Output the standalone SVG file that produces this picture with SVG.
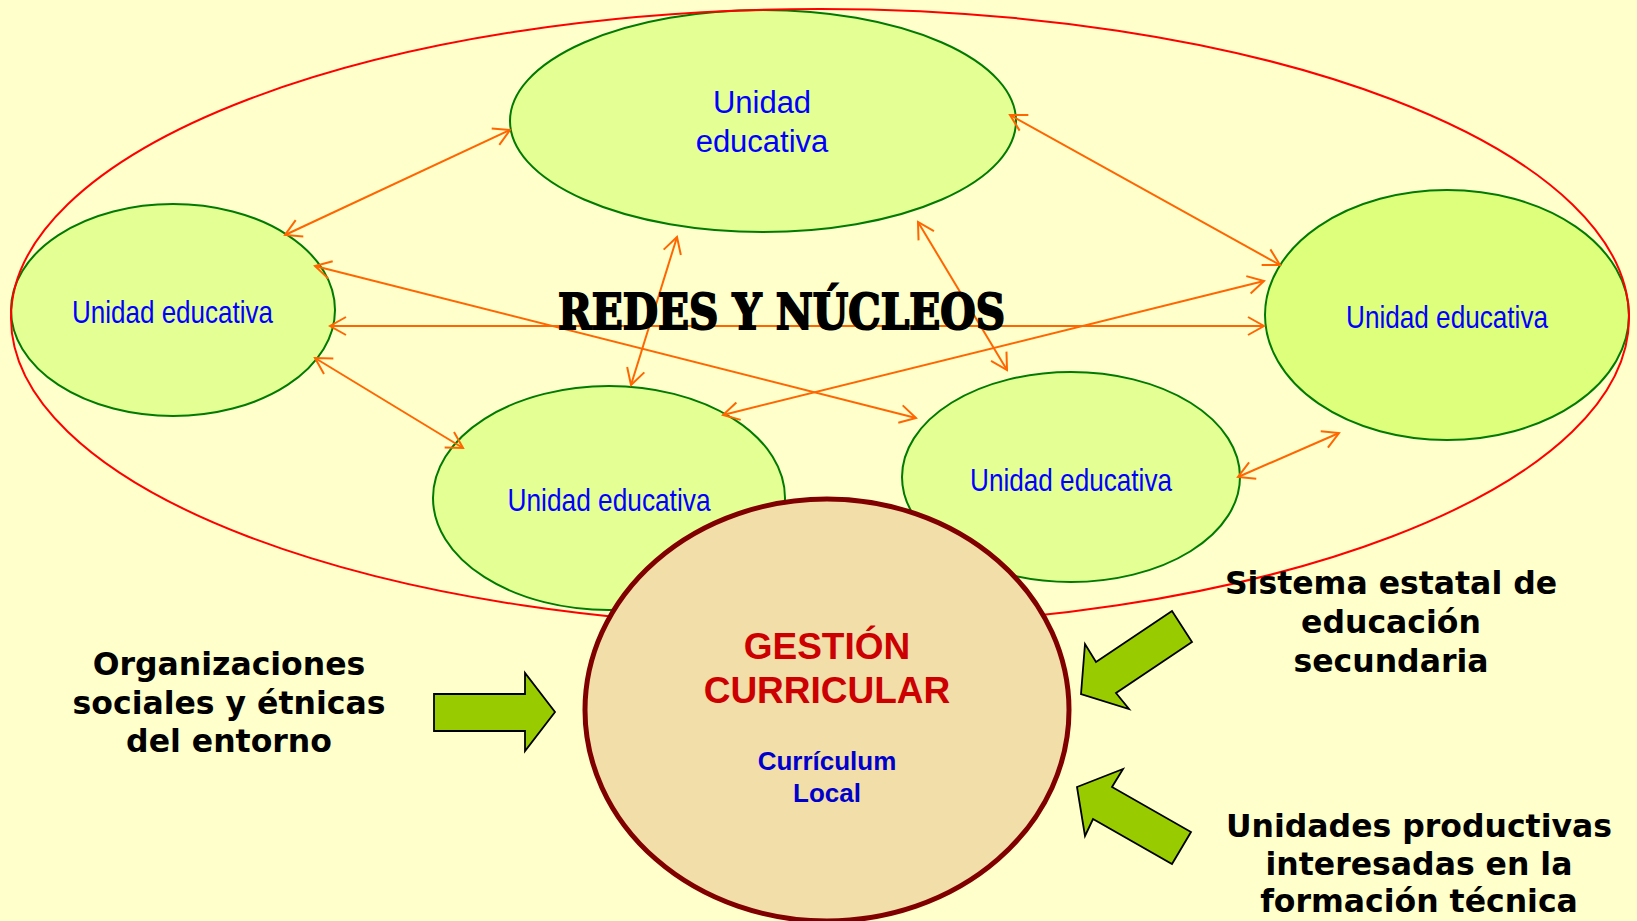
<svg xmlns="http://www.w3.org/2000/svg" width="1637" height="921" viewBox="0 0 1637 921">
<style>
.ue{fill:#E4FF93;stroke:#007A00;stroke-width:2}
.uet{font-family:"Liberation Sans Narrow","Liberation Sans",Arial,sans-serif;font-size:32px;fill:#0000FF;text-anchor:middle}
.conn line{stroke:#FF6600;stroke-width:2;marker-start:url(#ah);marker-end:url(#ah)}
.blk{font-family:"DejaVu Sans",Verdana,sans-serif;font-weight:bold;font-size:31.5px;fill:#000;text-anchor:middle}
.ga{fill:#99CC00;stroke:#000;stroke-width:1.8;stroke-linejoin:miter}
</style>
<defs>
<marker id="ah" viewBox="-20 -12 22 24" refX="0" refY="0" markerWidth="22" markerHeight="24" markerUnits="userSpaceOnUse" orient="auto-start-reverse">
<path d="M-16,-9 L0,0 L-16,9" fill="none" stroke="#FF6600" stroke-width="2"/>
</marker>
</defs>
<rect x="0" y="0" width="1637" height="921" fill="#FFFFCC"/>

<g id="ue-top">
<ellipse class="ue" cx="763" cy="121" rx="253" ry="111"/>
<text x="762" y="113" font-family="Liberation Sans,Arial,sans-serif" font-size="31" fill="#0000FF" text-anchor="middle">Unidad</text>
<text x="762" y="152" font-family="Liberation Sans,Arial,sans-serif" font-size="31" fill="#0000FF" text-anchor="middle">educativa</text>
</g>
<g id="ue-left">
<ellipse class="ue" cx="173" cy="310" rx="162" ry="106"/>
<text class="uet" x="172.5" y="323" textLength="201" lengthAdjust="spacingAndGlyphs">Unidad educativa</text>
</g>
<g id="ue-right">
<ellipse class="ue" cx="1447" cy="315" rx="182" ry="125" style="fill:#DEFF7C"/>
<text class="uet" x="1447" y="328" textLength="202" lengthAdjust="spacingAndGlyphs">Unidad educativa</text>
</g>
<g id="ue-bottom-left">
<ellipse class="ue" cx="609" cy="498" rx="176" ry="112"/>
<text class="uet" x="609" y="511" textLength="203" lengthAdjust="spacingAndGlyphs">Unidad educativa</text>
</g>
<g id="ue-bottom-right">
<ellipse class="ue" cx="1071" cy="477" rx="169" ry="105"/>
<text class="uet" x="1071" y="491" textLength="202" lengthAdjust="spacingAndGlyphs">Unidad educativa</text>
</g>

<g id="red-boundary">
<ellipse cx="820" cy="318" rx="809" ry="309" fill="none" stroke="#FF0000" stroke-width="2"/>
</g>

<g id="connectors" class="conn">
<line x1="285" y1="235" x2="510" y2="130"/>
<line x1="1010" y1="115" x2="1280" y2="265"/>
<line x1="677" y1="237" x2="631" y2="385"/>
<line x1="918" y1="222" x2="1007" y2="370"/>
<line x1="315" y1="266" x2="916" y2="418"/>
<line x1="330" y1="326" x2="1264" y2="326"/>
<line x1="315" y1="358" x2="463" y2="448"/>
<line x1="723" y1="415" x2="1264" y2="281"/>
<line x1="1238" y1="477" x2="1339" y2="433"/>
</g>

<g id="title">
<text x="781.5" y="329" font-family="DejaVu Serif,Liberation Serif,serif" font-weight="bold" font-size="48" fill="#000" stroke="#000" stroke-width="2" text-anchor="middle" textLength="447" lengthAdjust="spacingAndGlyphs">REDES Y NÚCLEOS</text>
</g>

<g id="gestion">
<ellipse cx="827" cy="710" rx="242" ry="211" fill="#F2DEA8" stroke="#800000" stroke-width="5"/>
<text x="827" y="659" font-family="Liberation Sans,Arial,sans-serif" font-weight="bold" font-size="37" fill="#CC0000" text-anchor="middle">GESTIÓN</text>
<text x="827" y="703" font-family="Liberation Sans,Arial,sans-serif" font-weight="bold" font-size="37" fill="#CC0000" text-anchor="middle">CURRICULAR</text>
<text x="827" y="770" font-family="Liberation Sans,Arial,sans-serif" font-weight="bold" font-size="26" fill="#0000CC" text-anchor="middle">Currículum</text>
<text x="827" y="802" font-family="Liberation Sans,Arial,sans-serif" font-weight="bold" font-size="26" fill="#0000CC" text-anchor="middle">Local</text>
</g>

<g id="arrow-left">
<polygon class="ga" points="434,694 525,694 525,673 555,712 525,751 525,731 434,731"/>
</g>
<g id="arrow-upper-right">
<polygon class="ga" points="1081,694 1085,644 1096,662 1172,611 1192,642 1116,693 1129,709"/>
</g>
<g id="arrow-lower-right">
<polygon class="ga" points="1077,787 1123,769 1112,787 1191,832 1172,864 1093,819 1085,836"/>
</g>

<g id="label-organizaciones">
<text class="blk" x="229" y="675">Organizaciones</text>
<text class="blk" x="229" y="714">sociales y étnicas</text>
<text class="blk" x="229" y="752">del entorno</text>
</g>
<g id="label-sistema">
<text class="blk" x="1391" y="594">Sistema estatal de</text>
<text class="blk" x="1391" y="633">educación</text>
<text class="blk" x="1391" y="672">secundaria</text>
</g>
<g id="label-unidades">
<text class="blk" x="1419" y="837">Unidades productivas</text>
<text class="blk" x="1419" y="875">interesadas en la</text>
<text class="blk" x="1419" y="912">formación técnica</text>
</g>
</svg>
